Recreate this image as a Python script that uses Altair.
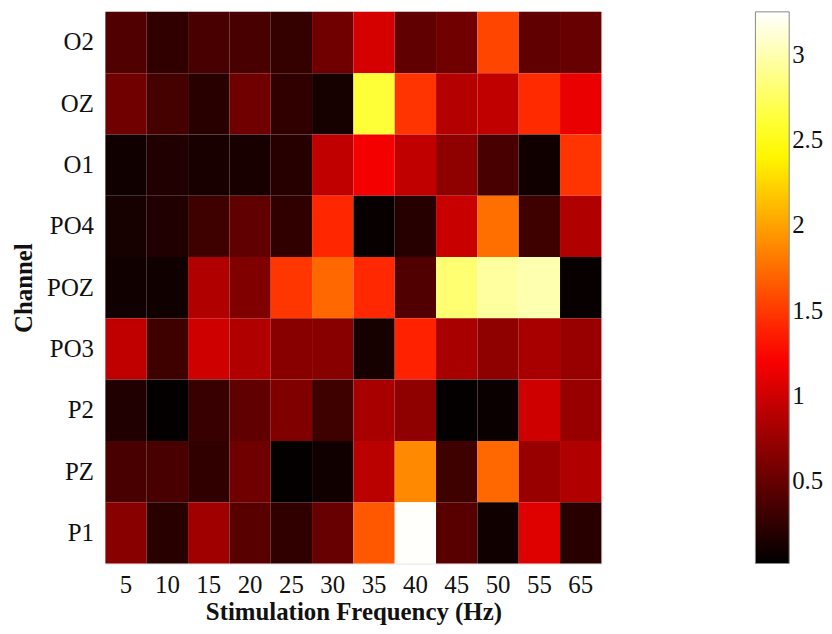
import altair as alt
import pandas as pd

freqs = ["5", "10", "15", "20", "25", "30", "35", "40", "45", "50", "55", "65"]
channels = ["O2", "OZ", "O1", "PO4", "POZ", "PO3", "P2", "PZ", "P1"]

O2  = [0.40, 0.25, 0.36, 0.36, 0.27, 0.55, 1.03, 0.48, 0.55, 1.56, 0.48, 0.51]
OZ  = [0.55, 0.35, 0.21, 0.55, 0.25, 0.13, 2.62, 1.48, 0.88, 0.93, 1.43, 1.13]
O1  = [0.10, 0.17, 0.14, 0.14, 0.20, 0.93, 1.18, 0.93, 0.70, 0.36, 0.10, 1.48]
PO4 = [0.13, 0.17, 0.32, 0.48, 0.25, 1.41, 0.06, 0.20, 0.97, 1.76, 0.32, 0.86]
POZ = [0.10, 0.10, 0.86, 0.63, 1.49, 1.72, 1.42, 0.40, 2.80, 2.95, 3.00, 0.06]
PO3 = [0.93, 0.32, 1.00, 0.86, 0.67, 0.67, 0.13, 1.39, 0.82, 0.70, 0.82, 0.74]
P2  = [0.17, 0.04, 0.29, 0.48, 0.63, 0.32, 0.82, 0.70, 0.04, 0.07, 1.00, 0.74]
PZ  = [0.36, 0.36, 0.25, 0.55, 0.04, 0.10, 0.91, 1.88, 0.32, 1.72, 0.74, 0.86]
P1  = [0.67, 0.21, 0.78, 0.44, 0.25, 0.51, 1.65, 3.24, 0.44, 0.10, 1.08, 0.21]

rows = {"O2": O2, "OZ": OZ, "O1": O1, "PO4": PO4, "POZ": POZ,
        "PO3": PO3, "P2": P2, "PZ": PZ, "P1": P1}

records = []
for ch in channels:
    for f, v in zip(freqs, rows[ch]):
        records.append({"Channel": ch, "Freq": f, "Value": v})
df = pd.DataFrame(records)

vmin, vmax = 0.02, 3.25
span = vmax - vmin
hot_domain = [vmin, vmin + span * 3 / 8, vmin + span * 6 / 8, vmax]
hot_range = ["#000000", "#ff0000", "#ffff00", "#ffffff"]

font = "Liberation Serif"

chart = alt.Chart(df).mark_rect(stroke=None).encode(
    x=alt.X("Freq:O", sort=freqs,
            axis=alt.Axis(title="Stimulation Frequency (Hz)", labelAngle=0,
                          labelFontSize=25, titleFontSize=25, titleFontWeight="bold",
                          labelFont=font, titleFont=font, ticks=False, domain=False,
                          labelPadding=9, titlePadding=2, labelColor="#111",
                          titleColor="#111")),
    y=alt.Y("Channel:O", sort=channels,
            axis=alt.Axis(title="Channel", labelFontSize=25, titleFontSize=25,
                          titleFontWeight="bold", labelFont=font, titleFont=font,
                          ticks=False, domain=False, labelPadding=12,
                          titlePadding=10, labelColor="#111", titleColor="#111")),
    color=alt.Color("Value:Q",
                    scale=alt.Scale(domain=hot_domain, range=hot_range,
                                    interpolate="rgb", clamp=True),
                    legend=alt.Legend(title=None, gradientLength=555,
                                      gradientThickness=34, labelFontSize=25,
                                      labelFont=font, labelColor="#111",
                                      values=[0.5, 1, 1.5, 2, 2.5, 3],
                                      format=".1~f", offset=155,
                                      gradientStrokeColor="#888",
                                      gradientStrokeWidth=1, labelOffset=3)),
).properties(width=499, height=555).configure_view(
    stroke="#888", strokeWidth=1
).configure(padding={"left": 3, "top": 2, "right": 0, "bottom": 0})

chart.save("out.html", embed_options={"renderer": "svg", "actions": False})
